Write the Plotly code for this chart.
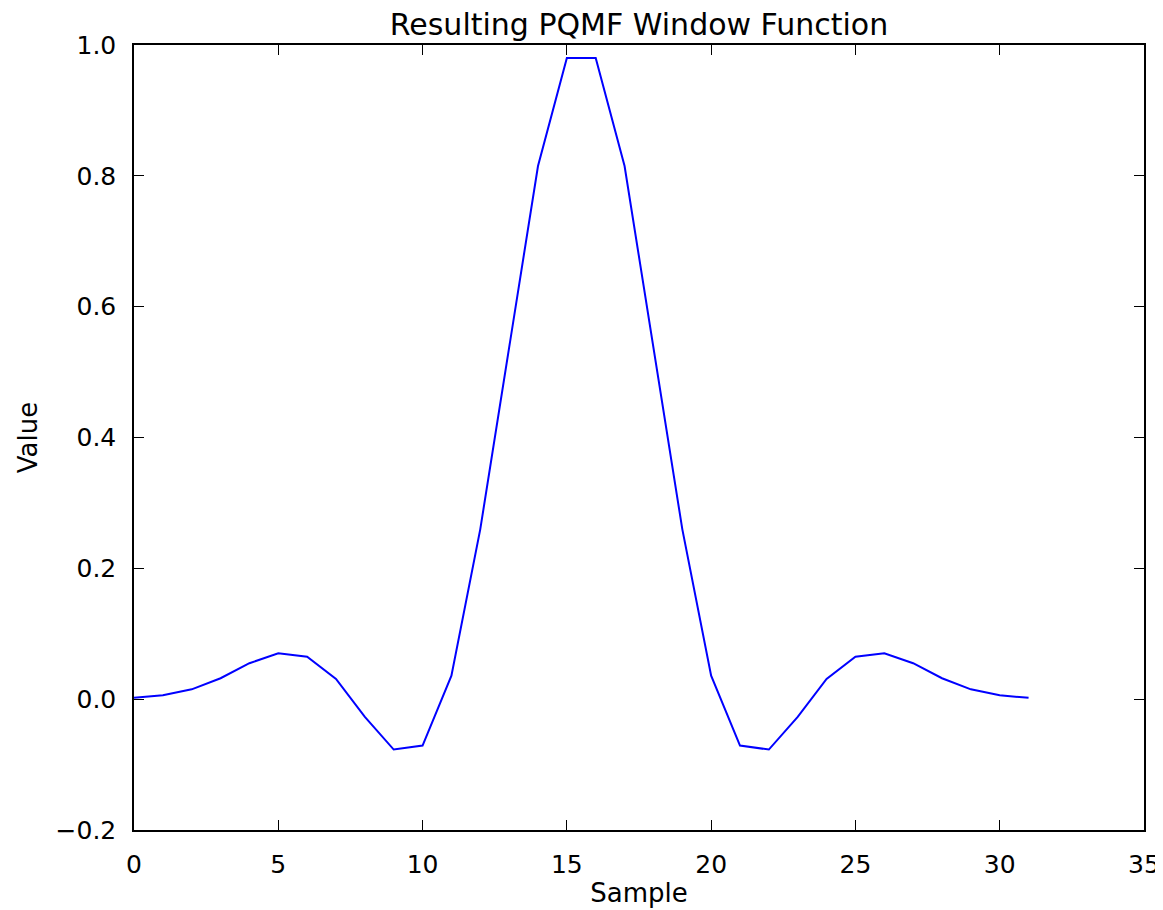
import plotly.graph_objects as go

samples = list(range(32))
half_values = [0.002, 0.006, 0.015, 0.032, 0.055, 0.070, 0.065, 0.031,
               -0.027, -0.077, -0.071, 0.036, 0.26, 0.54, 0.815, 0.98]
values = half_values + half_values[::-1]

x_ticks = [0, 5, 10, 15, 20, 25, 30, 35]
y_ticks = [-0.2, 0.0, 0.2, 0.4, 0.6, 0.8, 1.0]
y_tick_text = ["\u22120.2", "0.0", "0.2", "0.4", "0.6", "0.8", "1.0"]

fig = go.Figure()
fig.add_trace(go.Scatter(x=samples, y=values, mode="lines",
                         line=dict(color="#0000ff", width=2),
                         showlegend=False))

font = "DejaVu Sans"
axis_common = dict(showgrid=False, zeroline=False, showline=True,
                   linecolor="black", linewidth=1.5, mirror="ticks",
                   ticks="inside", ticklen=10, tickwidth=1.2, tickcolor="black",
                   automargin=False,
                   tickfont=dict(family=font, size=25, color="black"))

# page body has an 8px default margin; size the figure to fit the window
W, H = 1155, 902
fig.update_layout(
    width=W, height=H,
    margin=dict(l=126, r=19, t=37, b=80),
    paper_bgcolor="white", plot_bgcolor="white",
    title=dict(text="Resulting PQMF Window Function", x=0.5, xanchor="center",
               xref="paper", y=1 - 16 / H, yref="container", yanchor="middle",
               automargin=False,
               font=dict(family=font, size=30, color="black")),
    xaxis=dict(range=[0, 35], tickvals=x_ticks, ticklabelstandoff=11,
               title=dict(text="Sample", font=dict(family=font, size=26, color="black"), standoff=6),
               **axis_common),
    yaxis=dict(range=[-0.2, 1.0], tickvals=y_ticks, ticktext=y_tick_text, ticklabelstandoff=11,
               title=dict(text="Value", font=dict(family=font, size=26, color="black"), standoff=10),
               **axis_common),
)

fig.write_html("out.html")
